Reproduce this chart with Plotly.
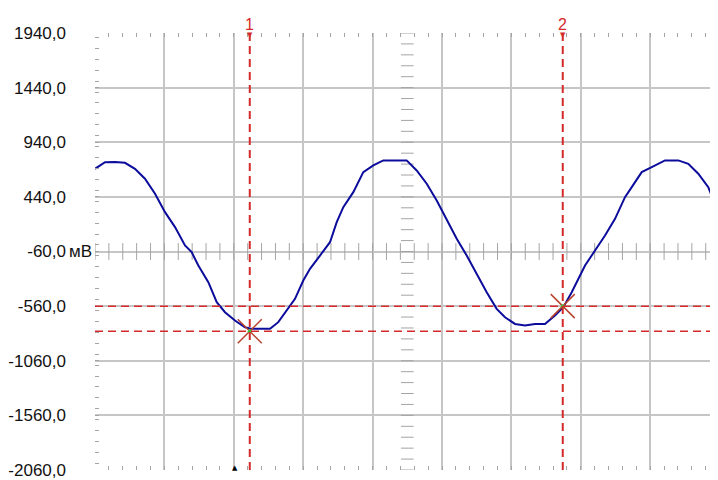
import numpy as np
import plotly.graph_objects as go

t_div = [0.000, 0.072, 0.144, 0.288, 0.432, 0.576, 0.720, 0.865, 1.009, 1.153,
         1.297, 1.393, 1.489, 1.633, 1.754, 1.873, 2.017, 2.161, 2.258, 2.402,
         2.522, 2.641, 2.785, 2.882, 3.001, 3.098, 3.242, 3.386, 3.483, 3.578,
         3.722, 3.818, 3.866, 4.010, 4.154, 4.347, 4.491, 4.635, 4.780, 4.924,
         5.068, 5.212, 5.356, 5.500, 5.644, 5.788, 5.908, 6.052, 6.196, 6.340,
         6.484, 6.628, 6.748, 6.869, 6.964, 7.061, 7.205, 7.349, 7.493, 7.637,
         7.734, 7.878, 8.022, 8.213, 8.405, 8.549, 8.693, 8.837, 8.958]
u_mv = [697, 730, 758, 760, 752, 697, 606, 468, 300, 163,
        -5, -66, -188, -341, -524, -616, -692, -753, -768, -768,
        -768, -707, -585, -493, -326, -219, -97, 25, 208, 346,
        483, 606, 667, 728, 774, 774, 774, 682, 560, 407,
        224, 56, -97, -265, -433, -585, -662, -723, -738, -723,
        -723, -647, -570, -433, -310, -188, -51, 87, 239, 437,
        529, 667, 713, 774, 774, 743, 652, 529, 331]

# курсоры
cursor_t = [2.23, 6.74]
cursor_mv = [-790, -560]
cursor_names = ["1", "2"]

y_ticks = [1940, 1440, 940, 440, -60, -560, -1060, -1560, -2060]
y_labels = ["1940,0", "1440,0", "940,0", "440,0", "-60,0", "-560,0",
            "-1060,0", "-1560,0", "-2060,0"]
trigger_t = [2.02]

GRID = "#c6c6c6"
TICK = "#a4a4a4"
RED = "#d42a2a"
CROSS = "#b8442e"
FONT = "Liberation Sans Narrow, Arial Narrow, Liberation Sans, Arial"

fig = go.Figure()

# риски на центральных осях
fig.add_trace(go.Scatter(x=np.arange(0, 9.01, 0.2), y=[-60] * 46, mode="markers",
                         marker=dict(symbol="line-ns", size=12, color=TICK,
                                     line=dict(color=TICK, width=1)),
                         hoverinfo="skip"))
fig.add_trace(go.Scatter(x=[4.5] * 41, y=np.arange(-2060, 1941, 100), mode="markers",
                         marker=dict(symbol="line-ew", size=9, color=TICK,
                                     line=dict(color=TICK, width=1)),
                         hoverinfo="skip"))

# курсоры
for t in cursor_t:
    fig.add_vline(x=t, line=dict(color=RED, width=2, dash="8px,5px"))
for v in cursor_mv:
    fig.add_hline(y=v, line=dict(color=RED, width=1.5, dash="8px,5px"))

# сигнал
fig.add_trace(go.Scatter(x=t_div, y=u_mv, mode="lines",
                         line=dict(color="#0c0c9c", width=2),
                         hoverinfo="skip"))

# точки пересечения курсоров
fig.add_trace(go.Scatter(x=cursor_t, y=cursor_mv, mode="markers",
                         marker=dict(symbol="x-thin-open", size=24, color=CROSS,
                                     line=dict(color=CROSS, width=1.5)),
                         hoverinfo="skip"))
fig.add_trace(go.Scatter(x=cursor_t, y=cursor_mv, mode="markers",
                         marker=dict(symbol="circle", size=4, color="#3cc03c"),
                         hoverinfo="skip"))

# метки курсоров сверху
for t, name in zip(cursor_t, cursor_names):
    fig.add_annotation(x=t, y=1.0, xref="x", yref="paper", yshift=19,
                       text=name, showarrow=False,
                       font=dict(family=FONT, size=16, color=RED))
    fig.add_annotation(x=t, y=1.0, xref="x", yref="paper", yshift=4,
                       text="▼", showarrow=False,
                       font=dict(family="DejaVu Sans", size=7, color=RED))

# маркер синхронизации
for t in trigger_t:
    fig.add_annotation(x=t, y=0, xref="x", yref="paper", yshift=-4,
                       text="▲", showarrow=False,
                       font=dict(family="DejaVu Sans", size=7, color="black"))

fig.add_annotation(x=0, y=-60, xref="paper", yref="y", xshift=-28,
                   text="мВ", showarrow=False, xanchor="left",
                   font=dict(family=FONT, size=17, color="#111111"))

# страница сдвигает график примерно на 8 px вправо и вниз
fig.update_xaxes(range=[0, 8.977], tick0=0, dtick=1, showgrid=True,
                 gridcolor=GRID, gridwidth=2, zeroline=False,
                 showticklabels=False, ticks="inside", ticklen=4,
                 tickcolor=TICK, mirror="ticks", showline=False,
                 automargin=False,
                 minor=dict(ticks="inside", ticklen=4, dtick=0.2,
                            tickcolor=TICK, showgrid=False))
fig.update_yaxes(range=[-2060, 1940], tickvals=y_ticks, ticktext=y_labels,
                 showgrid=True, gridcolor=GRID, gridwidth=2, zeroline=False,
                 ticks="inside", ticklen=4, tickcolor=TICK, mirror="ticks",
                 showline=False, ticklabelstandoff=28, automargin=False,
                 tickfont=dict(family=FONT, size=17, color="#111111"),
                 minor=dict(ticks="inside", ticklen=4, dtick=100,
                            tickcolor=TICK, showgrid=False))

fig.update_layout(width=710, height=472, showlegend=False,
                  plot_bgcolor="white", paper_bgcolor="white",
                  margin=dict(l=87, r=0, t=25, b=10), hovermode=False)

fig.write_html("out.html")
